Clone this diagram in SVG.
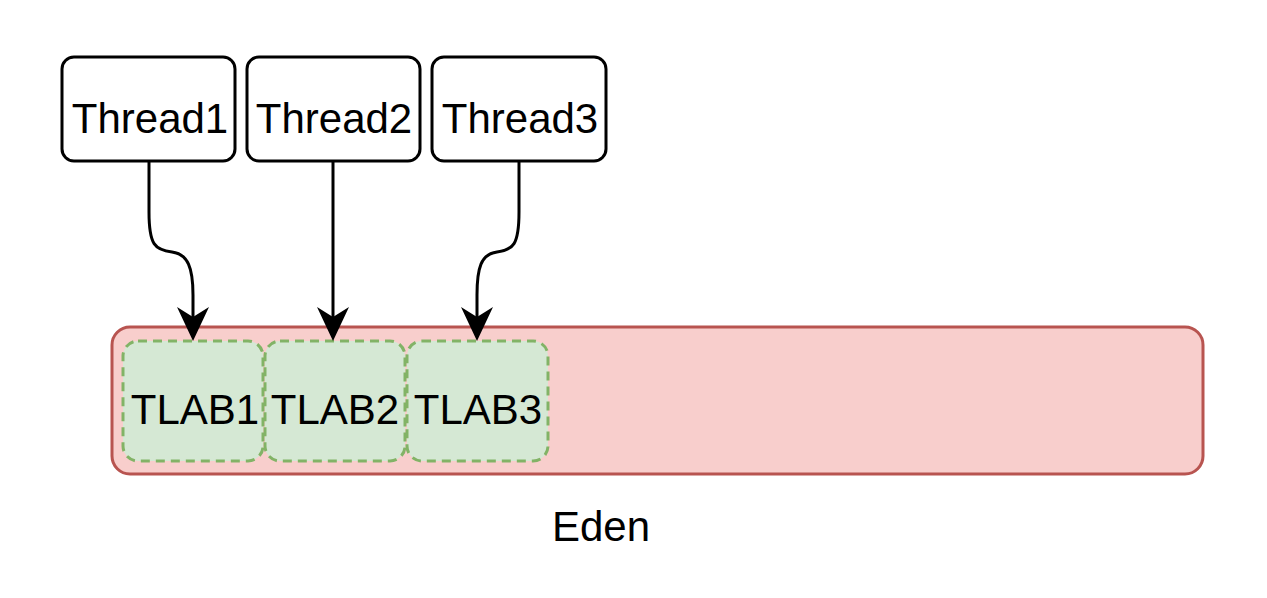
<svg xmlns="http://www.w3.org/2000/svg" width="1267" height="598" viewBox="0 0 1267 598">
<style>
.thread{fill:#ffffff;stroke:#000000;stroke-width:3}
.tlab{fill:#d5e8d4;stroke:#82b366;stroke-width:3;stroke-dasharray:9 6}
.eden{fill:#f8cecc;stroke:#b85450;stroke-width:3}
.lbl{font-family:"Comic Sans MS","Liberation Sans",sans-serif;font-size:42px;fill:#000000;text-anchor:middle}
.conn{fill:none;stroke:#000000;stroke-width:3}
</style>
<defs>
<marker id="arr" markerUnits="userSpaceOnUse" viewBox="0 0 34 32" markerWidth="34" markerHeight="32" refX="23" refY="16" orient="auto">
<path d="M0,0 L34,16 L0,32 L10,16 Z" fill="#000000"/>
</marker>
</defs>
<rect width="1267" height="598" fill="#ffffff"/>
<g id="eden">
<rect class="eden" x="112" y="327" width="1091" height="147" rx="18"/>
<text class="lbl" x="601" y="541">Eden</text>
</g>
<g id="tlab1">
<rect class="tlab" x="123" y="341" width="140" height="120" rx="15"/>
<text class="lbl" x="195" y="424">TLAB1</text>
</g>
<g id="tlab2">
<rect class="tlab" x="265" y="341" width="140" height="120" rx="15"/>
<text class="lbl" x="335" y="424">TLAB2</text>
</g>
<g id="tlab3">
<rect class="tlab" x="407" y="341" width="141" height="120" rx="15"/>
<text class="lbl" x="478" y="424">TLAB3</text>
</g>
<g id="thread1">
<rect class="thread" x="62" y="57" width="173" height="104" rx="12"/>
<text class="lbl" x="150" y="133">Thread1</text>
</g>
<g id="thread2">
<rect class="thread" x="247" y="57" width="173" height="104" rx="12"/>
<text class="lbl" x="334" y="133">Thread2</text>
</g>
<g id="thread3">
<rect class="thread" x="432" y="57" width="174" height="104" rx="12"/>
<text class="lbl" x="520" y="133">Thread3</text>
</g>
<g id="connectors">
<path class="conn" marker-end="url(#arr)" d="M149 161 L149 212 C149 245 155 250 172 252 C188 254 193 268 193 295 L193 330"/>
<path class="conn" marker-end="url(#arr)" d="M333 161 L333 330"/>
<path class="conn" marker-end="url(#arr)" d="M519 161 L519 212 C519 245 513 250 497 252 C481 254 477 268 477 295 L477 330"/>
</g>
</svg>
